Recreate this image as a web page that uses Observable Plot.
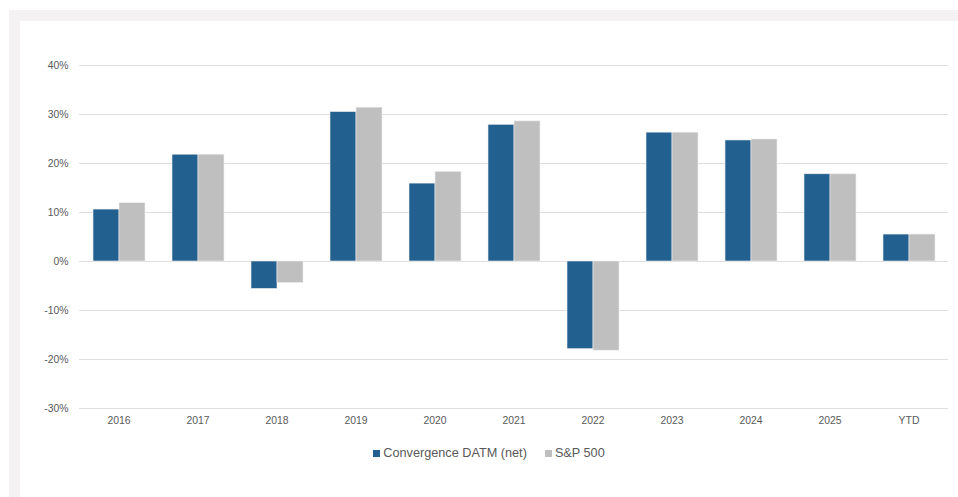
<!DOCTYPE html>
<html>
<head>
<meta charset="utf-8">
<script src="https://cdn.jsdelivr.net/npm/d3@7"></script>
<script src="https://cdn.jsdelivr.net/npm/@observablehq/plot@0.6"></script>
<style>
  html, body { margin: 0; padding: 0; background: #ffffff; }
  #page { position: relative; width: 958px; height: 497px; overflow: hidden; font-family: "Liberation Sans", Arial, sans-serif; }
  #frame { position: absolute; left: 9px; top: 10px; width: 949px; height: 487px; background: #f4f2f2; }
  #panel { position: absolute; left: 20px; top: 21px; width: 938px; height: 476px; background: #ffffff; }
  #chart { position: absolute; left: 20px; top: 21px; }
  #legend { position: absolute; left: 20px; top: 446px; width: 938px; display: flex; justify-content: center; align-items: center; font-size: 12.7px; color: #595959; }
  .item { display: flex; align-items: center; margin: 0 9px; }
  .sw { width: 7px; height: 7px; margin-right: 3px; }
</style>
</head>
<body>
<div id="page">
  <div id="frame"></div>
  <div id="panel"></div>
  <div id="chart"></div>
  <div id="legend"></div>
</div>
<script>
const categories = ["2016", "2017", "2018", "2019", "2020", "2021", "2022", "2023", "2024", "2025", "YTD"];
const seriesNames = ["Convergence DATM (net)", "S&P 500"];
const datm = [10.6, 21.8, -5.6, 30.5, 15.9, 27.9, -17.9, 26.3, 24.7, 17.8, 5.5];
const sp500 = [11.9, 21.8, -4.4, 31.4, 18.3, 28.6, -18.2, 26.3, 24.9, 17.8, 5.5];
const yTicks = [-30, -20, -10, 0, 10, 20, 30, 40];
const seriesColors = ["#22608f", "#bfbfbf"];

const rows = [];
categories.forEach((c, i) => {
  rows.push({year: c, series: seriesNames[0], value: datm[i]});
  rows.push({year: c, series: seriesNames[1], value: sp500[i]});
});

const chart = Plot.plot({
  width: 938,
  height: 420,
  marginLeft: 58,
  marginRight: 10,
  marginTop: 44,
  marginBottom: 33,
  style: {background: "transparent", fontFamily: "'Liberation Sans', Arial, sans-serif", fontSize: "10.4px", color: "#595959"},
  fx: {domain: categories, padding: 0, label: null},
  x: {domain: seriesNames, paddingInner: 0, paddingOuter: 0.5, axis: null},
  y: {domain: [-30, 40], label: null},
  color: {domain: seriesNames, range: seriesColors},
  marks: [
    Plot.ruleY(yTicks, {stroke: "#dedede", strokeWidth: 1}),
    Plot.barY(rows, {fx: "year", x: "series", y: "value", fill: "series", stroke: "#eeeeee", strokeWidth: 0.6}),
    Plot.axisY({ticks: yTicks, tickFormat: d => d + "%", tickSize: 0, tickPadding: 11, label: null, color: "#595959"}),
    Plot.axisFx({anchor: "bottom", tickSize: 0, tickPadding: 8, label: null, color: "#595959"})
  ]
});
document.getElementById("chart").appendChild(chart);

const legend = document.getElementById("legend");
seriesNames.forEach((name, i) => {
  const item = document.createElement("div");
  item.className = "item";
  const sw = document.createElement("span");
  sw.className = "sw";
  sw.style.background = seriesColors[i];
  const t = document.createElement("span");
  t.textContent = name;
  item.appendChild(sw);
  item.appendChild(t);
  legend.appendChild(item);
});
</script>
</body>
</html>
